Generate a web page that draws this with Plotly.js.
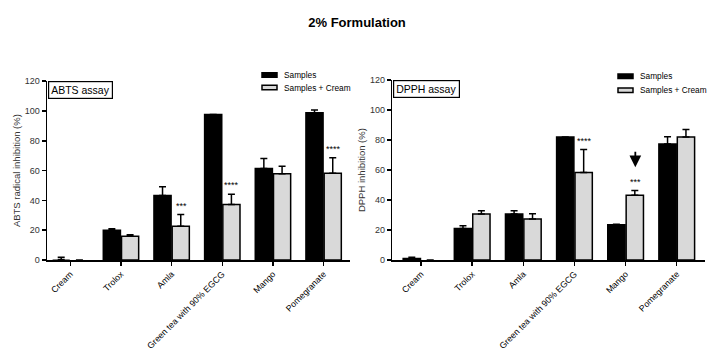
<!DOCTYPE html>
<html><head><meta charset="utf-8">
<script src="https://cdn.plot.ly/plotly-3.0.1.min.js"></script>
<style>html,body{margin:0;padding:0;background:#fff}#c{width:707px;height:350px}</style>
</head><body><div id="c"></div>
<script>
const categories = ["Cream","Trolox","Amla","Green tea with 90% EGCG","Mango","Pomegranate"];
// ABTS assay
const abtsSamples = [0.3, 20.0, 43.3, 97.6, 61.5, 98.9];
const abtsSamplesErr = [1.5, 1.0, 5.8, 0, 6.7, 1.8];
const abtsCream = [0, 15.9, 22.7, 37.2, 57.9, 58.3];
const abtsCreamErr = [0, 1.0, 7.8, 7.0, 5.1, 10.3];
const abtsSig = ["", "", "***", "****", "", "****"];
// DPPH assay
const dpphSamples = [1.1, 21.1, 30.7, 82.0, 23.6, 77.4];
const dpphSamplesErr = [0.8, 1.8, 2.2, 0, 0.3, 4.8];
const dpphCream = [0, 30.7, 27.3, 58.4, 43.3, 82.0];
const dpphCreamErr = [0, 2.2, 3.6, 15.4, 3.1, 5.0];
const dpphSig = ["", "", "", "****", "***", ""];
const arrowCategory = "Mango";
const seriesNames = ["Samples", "Samples + Cream"];

const FONT = "Liberation Sans, Arial, sans-serif";
const grey = "#d9d9d9";
const colors = ["#000", grey];

function barTrace(y, err, name, color, xa, ya) {
  return {
    type: "bar", x: categories, y: y, name: name, xaxis: xa, yaxis: ya, showlegend: false,
    marker: {color: color, line: {color: "#000", width: y.map(v => v > 0.5 ? 1.5 : 0)}},
    error_y: {type: "data", array: err, arrayminus: err.map(() => 0), symmetric: false,
              color: "#000", thickness: 1.5, width: 3.5},
    hoverinfo: "skip"
  };
}

const data = [
  barTrace(abtsSamples, abtsSamplesErr, seriesNames[0], colors[0], "x", "y"),
  barTrace(abtsCream, abtsCreamErr, seriesNames[1], colors[1], "x", "y"),
  barTrace(dpphSamples, dpphSamplesErr, seriesNames[0], colors[0], "x2", "y2"),
  barTrace(dpphCream, dpphCreamErr, seriesNames[1], colors[1], "x2", "y2")
];

const annotations = [];
const shapes = [];
function addSig(sig, vals, errs, xa, ya) {
  sig.forEach((s, i) => {
    if (!s) return;
    annotations.push({xref: xa, yref: ya, x: i + 0.19, y: vals[i] + errs[i] + 1.2,
      text: s, showarrow: false, yanchor: "bottom", font: {family: FONT, size: 9, color: "#000"}});
  });
}
addSig(abtsSig, abtsCream, abtsCreamErr, "x", "y");
addSig(dpphSig, dpphCream, dpphCreamErr, "x2", "y2");
const ai = categories.indexOf(arrowCategory);
annotations.push({xref: "x2", yref: "y2", x: ai + 0.19, y: dpphCream[ai] + dpphCreamErr[ai] + 15.5,
  ax: 0, ay: -17, showarrow: true, arrowhead: 2, arrowsize: 1.3, arrowwidth: 1.8, arrowcolor: "#000", text: ""});
annotations.push({xref: "x domain", yref: "y domain", x: 0.003, y: 1, xanchor: "left", yanchor: "top",
  text: "ABTS assay", showarrow: false, bordercolor: "#000", borderwidth: 1.2, borderpad: 2,
  bgcolor: "#fff", font: {family: FONT, size: 10.5, color: "#000"}});
annotations.push({xref: "x2 domain", yref: "y2 domain", x: 0.003, y: 1, xanchor: "left", yanchor: "top",
  text: "DPPH assay", showarrow: false, bordercolor: "#000", borderwidth: 1.2, borderpad: 2,
  bgcolor: "#fff", font: {family: FONT, size: 10.5, color: "#000"}});

// custom legends (paper coordinates, pixel-based)
function px(x) { return x / 707; }
function py(y) { return 1 - y / 350; }
function addLegend(x0, yc) {
  seriesNames.forEach((n, k) => {
    const c = yc[k];
    shapes.push({type: "rect", xref: "paper", yref: "paper", x0: px(x0), x1: px(x0 + 15),
      y0: py(c + 2.2), y1: py(c - 2.2), fillcolor: colors[k], line: {color: "#000", width: 1.5}});
    annotations.push({xref: "paper", yref: "paper", x: px(x0 + 20), y: py(c), xanchor: "left", yanchor: "middle",
      text: n, showarrow: false, font: {family: FONT, size: 8.3, color: "#000"}});
  });
}
addLegend(262, [75, 87.5]);
addLegend(618, [76.2, 90.3]);

function xax(domain, range) {
  return {domain: domain, range: range, type: "category", showline: true, linecolor: "#000", linewidth: 1.5,
    ticks: "outside", ticklen: 4, tickwidth: 1.5, tickcolor: "#000", tickangle: -45, automargin: false,
    tickfont: {family: FONT, size: 8.8, color: "#000"}, showgrid: false, zeroline: false, fixedrange: true};
}
function yax(domain, title, anchor) {
  return {domain: domain, range: [0, 120], anchor: anchor, tickvals: [0,20,40,60,80,100,120],
    showline: true, linecolor: "#000", linewidth: 1.5, ticks: "outside", ticklen: 4, tickwidth: 1.5,
    tickcolor: "#000", tickfont: {family: FONT, size: 9, color: "#333"}, showgrid: false, zeroline: false,
    automargin: false,
    title: {text: title, font: {family: FONT, size: 9.5, color: "#333"}, standoff: 2}};
}

const layout = {
  width: 707, height: 350, margin: {l: 0, r: 0, t: 0, b: 0, autoexpand: false},
  paper_bgcolor: "#fff", plot_bgcolor: "#fff",
  title: {text: "<b>2% Formulation</b>", x: 0.505, xanchor: "center", y: 0.935, yanchor: "middle",
          font: {family: FONT, size: 13, color: "#000"}},
  barmode: "group", bargap: 0.28, bargroupgap: 0.06,
  xaxis: xax([0.0665, 0.495], [-0.46, 5.52]),
  yaxis: yax([0.257, 0.768], "ABTS radical inhibition (%)", "x"),
  xaxis2: xax([0.555, 0.997], [-0.56, 5.55]),
  yaxis2: yax([0.257, 0.771], "DPPH inhibition (%)", "x2"),
  annotations: annotations,
  shapes: shapes,
  showlegend: false
};

Plotly.newPlot("c", data, layout, {displayModeBar: false, staticPlot: true});
</script></body></html>
